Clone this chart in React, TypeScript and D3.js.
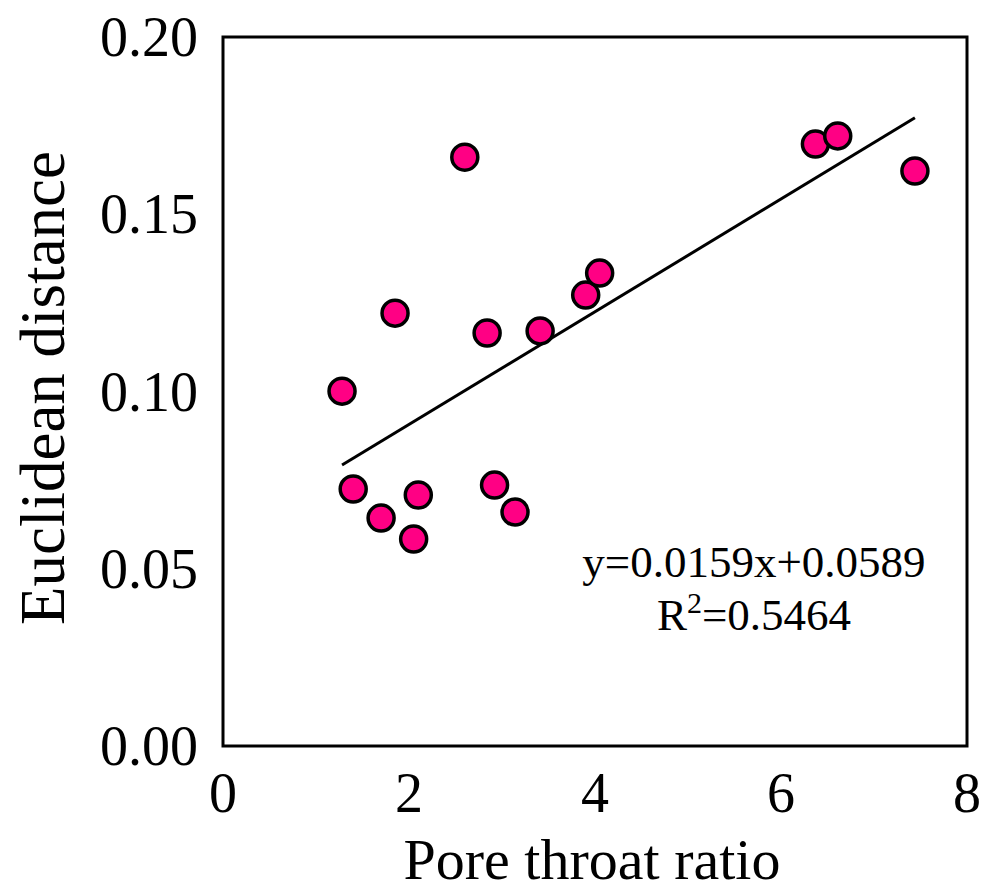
import React from "react";
import * as d3 from "d3";

const poreThroatRatio = [1.28, 1.40, 1.70, 1.85, 2.05, 2.10, 2.60, 2.84, 2.92, 3.14, 3.41, 3.90, 4.05, 6.37, 6.61, 7.44];
const euclideanDistance = [0.1001, 0.0725, 0.0643, 0.1221, 0.0584, 0.0708, 0.1661, 0.1165, 0.0736, 0.0660, 0.1171, 0.1272, 0.1334, 0.1698, 0.1721, 0.1622];
const xTicks = [0, 2, 4, 6, 8];
const yTicks = [0, 0.05, 0.1, 0.15, 0.2];
const fitSlope = 0.0159;
const fitIntercept = 0.0589;
const eqText = "y=0.0159x+0.0589";
const r2Text = "0.5464";

const W = 989;
const H = 884;
const L = 223, R = 967, T = 37, B = 746;
const FONT = "'Liberation Serif', 'Times New Roman', serif";

export default function App() {
  const x = d3.scaleLinear().domain([0, 8]).range([L, R]);
  const y = d3.scaleLinear().domain([0, 0.2]).range([B, T]);
  const xMin = d3.min(poreThroatRatio) as number;
  const xMax = d3.max(poreThroatRatio) as number;
  const line = d3.line<number>().x((d) => x(d)).y((d) => y(fitSlope * d + fitIntercept));
  const pts = poreThroatRatio.map((v, i) => ({ x: v, y: euclideanDistance[i] }));
  return (
    <svg width={W} height={H} style={{ position: "absolute", left: 0, top: 0 }} fontFamily={FONT}>
      <rect x={0} y={0} width={W} height={H} fill="#fff" />
      <rect x={L} y={T} width={R - L} height={B - T} fill="none" stroke="#000" strokeWidth={3} />
      {yTicks.map((t) => (
        <text key={"y" + t} x={198} y={y(t)} dy="0.34em" textAnchor="end" fontSize={56} fill="#000">
          {t.toFixed(2)}
        </text>
      ))}
      {xTicks.map((t) => (
        <text key={"x" + t} x={x(t)} y={812} textAnchor="middle" fontSize={56} fill="#000">
          {t}
        </text>
      ))}
      <text x={(L + R) / 2 - 3} y={879} textAnchor="middle" fontSize={58} fill="#000">
        Pore throat ratio
      </text>
      <text transform={`translate(64, ${388}) rotate(-90)`} textAnchor="middle" fontSize={63} fill="#000">
        Euclidean distance
      </text>
      <path d={line([xMin, xMax]) || ""} fill="none" stroke="#000" strokeWidth={3} />
      {pts.map((p, i) => (
        <circle key={i} cx={x(p.x)} cy={y(p.y)} r={13} fill="#FF0084" stroke="#000" strokeWidth={3.5} />
      ))}
      <text x={754} y={577} textAnchor="middle" fontSize={45} fill="#000">
        {eqText}
      </text>
      <text x={754} y={630} textAnchor="middle" fontSize={45} fill="#000">
        R<tspan dy={-17} fontSize={30}>2</tspan>
        <tspan dy={17}>={r2Text}</tspan>
      </text>
    </svg>
  );
}
